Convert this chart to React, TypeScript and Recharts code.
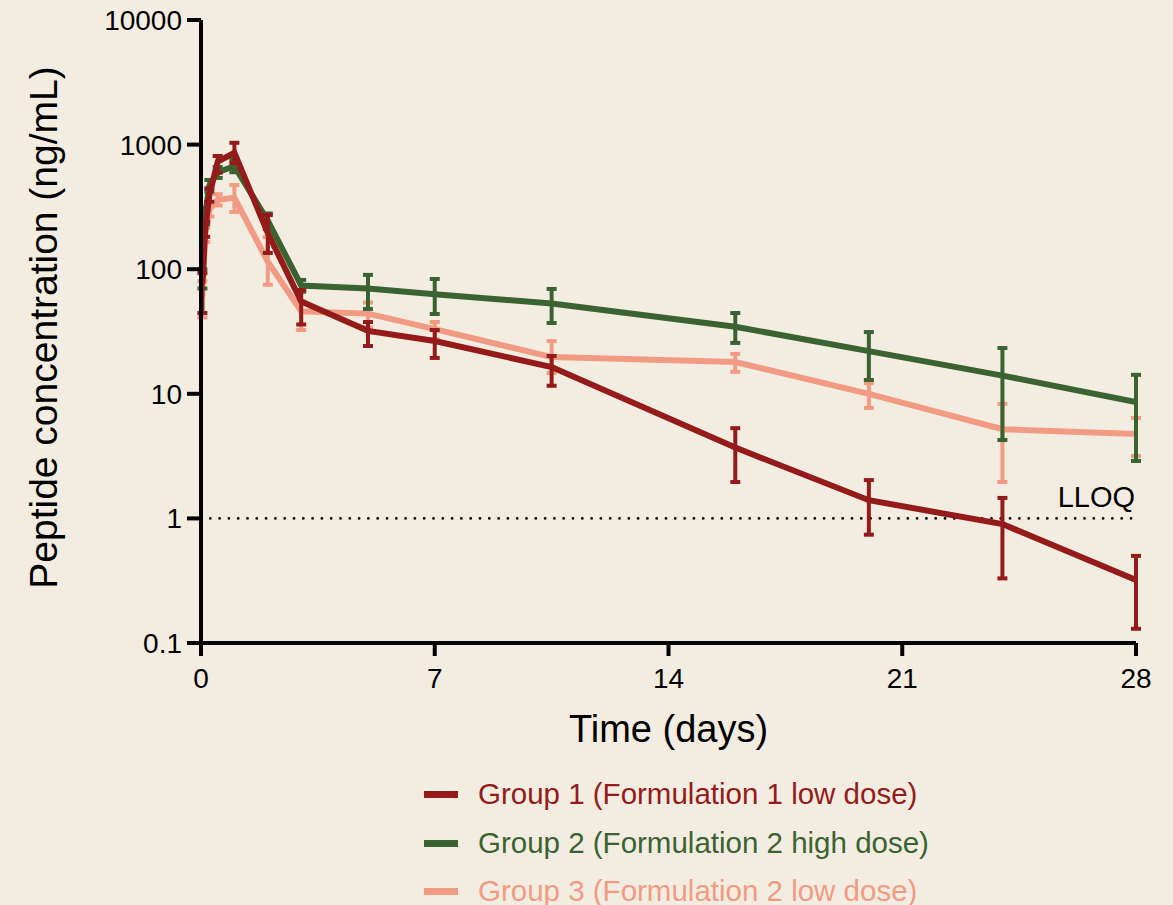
import React from 'react';
import { LineChart, Line, XAxis, YAxis, ErrorBar, ReferenceLine, Legend } from 'recharts';

const times = [0.042, 0.125, 0.25, 0.5, 1, 2, 3, 5, 7, 10.5, 16, 20, 24, 28];

const g1Mean = [77, 206, 394, 729, 860, 195, 55, 32, 26.5, 16.4, 3.7, 1.4, 0.9, 0.32];
const g1Low = [44.5, 182, 348, 595, 712, 135, 36, 24.2, 19.4, 11.6, 1.96, 0.74, 0.33, 0.13];
const g1High = [93, 240, 446, 810, 1034, 272, 68, 37.7, 32.5, 20.1, 5.3, 2.03, 1.46, 0.5];

const g2Mean = [85, 270, 470, 600, 670, 245, 74, 70, 63, 53, 34.5, 22, 14, 8.6];
const g2Low = [70, 230, 420, 540, 600, 210, 66, 48, 43.7, 37, 25.6, 12.9, 4.26, 2.89];
const g2High = [100, 310, 520, 660, 760, 280, 82, 90, 83.4, 69.4, 44.5, 31.3, 23.3, 14.2];

const g3Mean = [60, 190, 300, 360, 375, 115, 46, 44, 33, 19.7, 18, 10, 5.2, 4.75];
const g3Low = [41, 165, 265, 325, 288, 75, 32.5, 34, 27.5, 14.7, 15, 7.7, 1.96, 3.17];
const g3High = [80, 215, 340, 400, 474, 181, 55, 54, 37.7, 26.5, 20.9, 12.2, 8.3, 6.4];

const xTicks = [0, 7, 14, 21, 28];
const yTicks = [0.1, 1, 10, 100, 1000, 10000];
const lloq = 1;

const seriesNames = [
  'Group 1 (Formulation 1 low dose)',
  'Group 2 (Formulation 2 high dose)',
  'Group 3 (Formulation 2 low dose)',
];
const colors = ['#951B1B', '#3B6331', '#F29B84'];

const data = times.map((t, i) => ({
  t,
  g1: g1Mean[i],
  g1e: [g1Mean[i] - g1Low[i], g1High[i] - g1Mean[i]],
  g2: g2Mean[i],
  g2e: [g2Mean[i] - g2Low[i], g2High[i] - g2Mean[i]],
  g3: g3Mean[i],
  g3e: [g3Mean[i] - g3Low[i], g3High[i] - g3Mean[i]],
}));

const FONT = '"Liberation Sans", Arial, Helvetica, sans-serif';
const BG = '#F3EDE1';

const rowCenters = [794, 843, 891];

const LegendContent = () => (
  <div style={{ position: 'relative', width: 700, height: 140, fontFamily: FONT }}>
    {seriesNames.map((name, i) => (
      <div
        key={name}
        style={{
          position: 'absolute',
          left: 0,
          top: rowCenters[i] - 772 - 20,
          height: 40,
          display: 'flex',
          alignItems: 'center',
          whiteSpace: 'nowrap',
        }}
      >
        <div style={{ width: 34, height: 7, background: colors[i], marginRight: 20 }} />
        <span style={{ fontSize: 29.5, color: colors[i], lineHeight: '40px' }}>{name}</span>
      </div>
    ))}
  </div>
);

export default function App() {
  return (
    <div
      style={{
        position: 'fixed',
        left: 0,
        top: 0,
        width: 1173,
        height: 905,
        background: BG,
        overflow: 'hidden',
      }}
    >
      <LineChart
        width={1173}
        height={905}
        data={data}
        margin={{ top: 20, right: 37, bottom: 162, left: 0 }}
        style={{ fontFamily: FONT }}
      >
        <XAxis
          dataKey="t"
          type="number"
          domain={[0, 28]}
          ticks={xTicks}
          interval={0}
          height={100}
          stroke="#000"
          axisLine={{ stroke: '#000', strokeWidth: 4 }}
          tickLine={{ stroke: '#000', strokeWidth: 4 }}
          tickSize={13}
          tickMargin={12}
          tick={{ fill: '#000', fontSize: 28, fontFamily: FONT }}
          allowDataOverflow
          label={{
            content: () => (
              <text x={668.5} y={741.5} textAnchor="middle" fontSize={38} fontFamily={FONT} fill="#000">
                Time (days)
              </text>
            ),
          }}
        />
        <YAxis
          type="number"
          scale="log"
          domain={[0.1, 10000]}
          ticks={yTicks}
          interval={0}
          allowDataOverflow
          width={201}
          stroke="#000"
          axisLine={{ stroke: '#000', strokeWidth: 4 }}
          tickLine={{ stroke: '#000', strokeWidth: 4 }}
          tickSize={14}
          tickMargin={5}
          tick={{ fill: '#000', fontSize: 28, fontFamily: FONT }}
          label={{
            content: () => (
              <text
                x={57}
                y={327.5}
                textAnchor="middle"
                fontSize={39}
                fontFamily={FONT}
                fill="#000"
                transform="rotate(-90, 57, 327.5)"
              >
                Peptide concentration (ng/mL)
              </text>
            ),
          }}
        />
        <ReferenceLine
          y={lloq}
          stroke="#000"
          strokeWidth={2.8}
          strokeDasharray="0 9.3"
          strokeLinecap="round"
          label={{
            content: (props: any) => {
              const vb = props.viewBox || { x: 201, y: 518, width: 935 };
              return (
                <text
                  x={vb.x + vb.width - 1}
                  y={vb.y - 11}
                  textAnchor="end"
                  fontSize={29}
                  fontFamily={FONT}
                  fill="#000"
                >
                  LLOQ
                </text>
              );
            },
          }}
        />
        <Line
          dataKey="g3"
          name={seriesNames[2]}
          stroke={colors[2]}
          strokeWidth={6}
          dot={false}
          activeDot={false}
          isAnimationActive={false}
          type="linear"
        >
          <ErrorBar dataKey="g3e" direction="y" width={5} strokeWidth={4} stroke={colors[2]} isAnimationActive={false} />
        </Line>
        <Line
          dataKey="g2"
          name={seriesNames[1]}
          stroke={colors[1]}
          strokeWidth={6}
          dot={false}
          activeDot={false}
          isAnimationActive={false}
          type="linear"
        >
          <ErrorBar dataKey="g2e" direction="y" width={5} strokeWidth={4} stroke={colors[1]} isAnimationActive={false} />
        </Line>
        <Line
          dataKey="g1"
          name={seriesNames[0]}
          stroke={colors[0]}
          strokeWidth={6}
          dot={false}
          activeDot={false}
          isAnimationActive={false}
          type="linear"
        >
          <ErrorBar dataKey="g1e" direction="y" width={5} strokeWidth={4} stroke={colors[0]} isAnimationActive={false} />
        </Line>
        <Legend
          layout="horizontal"
          verticalAlign="middle"
          align="center"
          content={() => <LegendContent />}
          wrapperStyle={{ position: 'absolute', top: 772, left: 424, width: 700, height: 140 }}
        />
      </LineChart>
    </div>
  );
}
